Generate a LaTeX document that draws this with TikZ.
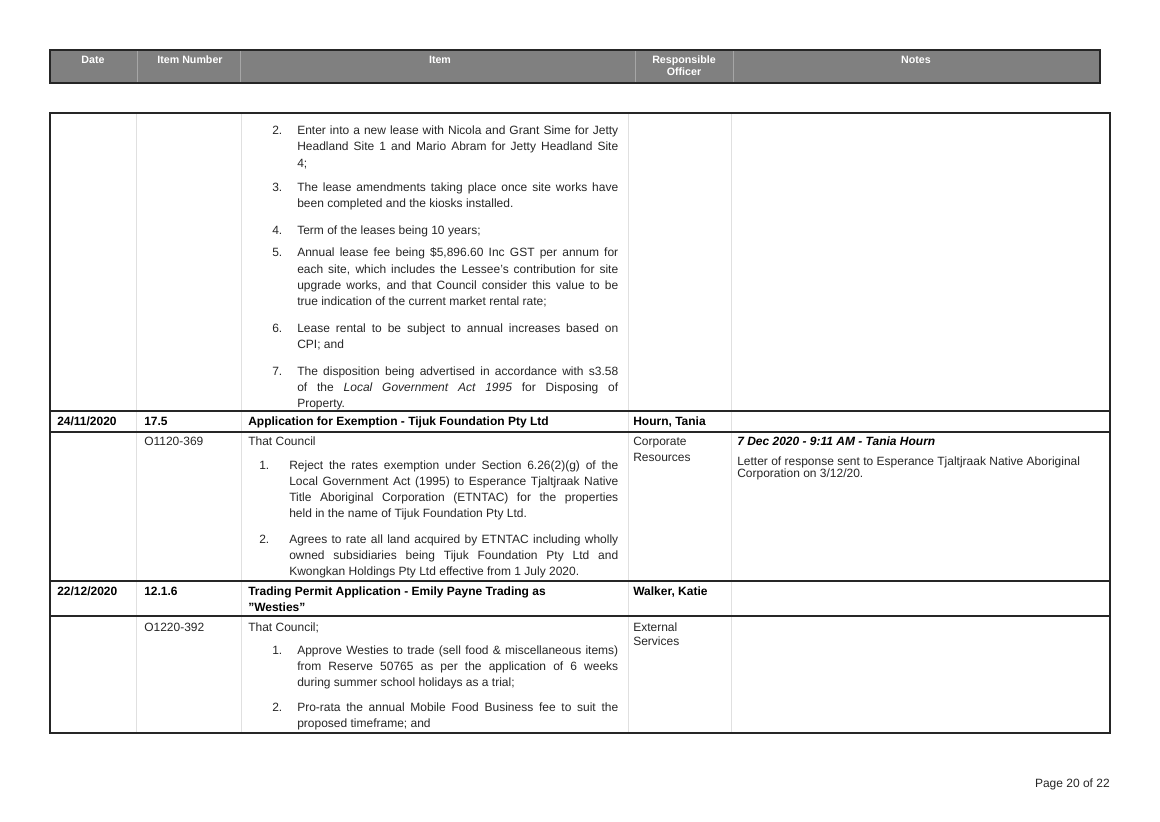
\documentclass[tikz,border=0pt]{standalone}
\usepackage{fontspec}
\setmainfont{Liberation Sans}
\newcommand\JA[1]{\makebox[240.75pt][s]{#1}}
\newcommand\JB[1]{\makebox[246.75pt][s]{#1}}
\begin{document}
\begin{tikzpicture}[x=0.75pt,y=-0.75pt,
  txt/.style={anchor=base west,inner sep=0pt,font=\fontsize{9pt}{11pt}\selectfont,text=black!85},
  btxt/.style={txt,font=\fontsize{9pt}{11pt}\selectfont\bfseries,text=black},
  hd/.style={inner sep=0pt,font=\fontsize{8pt}{9pt}\selectfont\bfseries,text=white,align=center},
  rule/.style={line width=1.2pt,black!85},
  faint/.style={line width=0.4pt,black!12}]
\useasboundingbox (0,0) rectangle (1160,821);
% header
\fill[black!50] (50,50) rectangle (1100,83);
\foreach \x in {137,240,635,733} \draw[black!35,line width=0.6pt] (\x,50) -- (\x,83);
\draw[line width=1.8pt,black!85] (50,50) rectangle (1100,83);
\node[hd] (h1) at (93,60) {Date};
\node[hd] (h2) at (190,60) {Item Number};
\node[hd] (h3) at (440,60) {Item};
\node[hd] (h4) at (684,66) {Responsible\\Officer};
\node[hd] (h5) at (916,60) {Notes};
% body grid
\foreach \x in {136,241,628,731} \draw[faint] (\x,113) -- (\x,733);
\draw[rule] (50,411) -- (1110,411);
\draw[rule] (50,432) -- (1110,432);
\draw[rule] (50,581) -- (1110,581);
\draw[rule] (50,616) -- (1110,616);
\draw[line width=1.8pt,black!85] (50,113) rectangle (1110,733);
% first block
\node[txt] (n2) at (272,134) {2.};
\node[txt] (t2a) at (297,134) {\JA{Enter into a new lease with Nicola and Grant Sime for Jetty}};
\node[txt] (t2b) at (297,150) {\JA{Headland Site 1 and Mario Abram for Jetty Headland Site}};
\node[txt] (t2c) at (297,167) {4;};
\node[txt] (n3) at (272,191) {3.};
\node[txt] (t3a) at (297,191) {\JA{The lease amendments taking place once site works have}};
\node[txt] (t3b) at (297,207) {been completed and the kiosks installed.};
\node[txt] (n4) at (272,234) {4.};
\node[txt] (t4a) at (297,234) {Term of the leases being 10 years;};
\node[txt] (n5) at (272,256) {5.};
\node[txt] (t5a) at (297,256) {\JA{Annual lease fee being \$5,896.60 Inc GST per annum for}};
\node[txt] (t5b) at (297,273) {\JA{each site, which includes the Lessee's contribution for site}};
\node[txt] (t5c) at (297,289) {\JA{upgrade works, and that Council consider this value to be}};
\node[txt] (t5d) at (297,305) {true indication of the current market rental rate;};
\node[txt] (n6) at (272,332) {6.};
\node[txt] (t6a) at (297,332) {\JA{Lease rental to be subject to annual increases based on}};
\node[txt] (t6b) at (297,348) {CPI; and};
\node[txt] (n7) at (272,375) {7.};
\node[txt] (t7a) at (297,375) {\JA{The disposition being advertised in accordance with s3.58}};
\node[txt] (t7b) at (297,391) {\JA{of the \textit{Local Government Act 1995} for Disposing of}};
\node[txt] (t7c) at (297,407) {Property.};
% row 24/11/2020
\node[btxt] (d1) at (57,425) {24/11/2020};
\node[btxt] (i1) at (144,425) {17.5};
\node[btxt] (it1) at (248,425) {Application for Exemption - Tijuk Foundation Pty Ltd};
\node[btxt] (o1) at (633,425) {Hourn, Tania};
\node[txt] (r1) at (144,445) {O1120-369};
\node[txt] (c1) at (248,445) {That Council};
\node[txt] (off1a) at (633,445) {Corporate};
\node[txt] (off1b) at (633,461) {Resources};
\node[btxt,font=\fontsize{9pt}{11pt}\selectfont\bfseries\itshape] (nt1) at (737,445) {7 Dec 2020 - 9:11 AM - Tania Hourn};
\node[txt] (nt2) at (737,465) {Letter of response sent to Esperance Tjaltjraak Native Aboriginal};
\node[txt] (nt3) at (737,477) {Corporation on 3/12/20.};
\node[txt] (m1) at (259,469) {1.};
\node[txt] (m1a) at (289,469) {\JB{Reject the rates exemption under Section 6.26(2)(g) of the}};
\node[txt] (m1b) at (289,485) {\JB{Local Government Act (1995) to Esperance Tjaltjraak Native}};
\node[txt] (m1c) at (289,501) {\JB{Title Aboriginal Corporation (ETNTAC) for the properties}};
\node[txt] (m1d) at (289,517) {held in the name of Tijuk Foundation Pty Ltd.};
\node[txt] (m2) at (259,543) {2.};
\node[txt] (m2a) at (289,543) {\JB{Agrees to rate all land acquired by ETNTAC including wholly}};
\node[txt] (m2b) at (289,559) {\JB{owned subsidiaries being Tijuk Foundation Pty Ltd and}};
\node[txt] (m2c) at (289,575) {Kwongkan Holdings Pty Ltd effective from 1 July 2020.};
% row 22/12/2020
\node[btxt] (d2) at (57,595) {22/12/2020};
\node[btxt] (i2) at (144,595) {12.1.6};
\node[btxt] (it2a) at (248,595) {Trading Permit Application - Emily Payne Trading as};
\node[btxt] (it2b) at (248,611) {\symbol{34}Westies\symbol{34}};
\node[btxt] (o2) at (633,595) {Walker, Katie};
\node[txt] (r2) at (144,631) {O1220-392};
\node[txt] (c2) at (248,631) {That Council;};
\node[txt] (off2a) at (633,631) {External};
\node[txt] (off2b) at (633,645) {Services};
\node[txt] (p1) at (272,654) {1.};
\node[txt] (p1a) at (297,654) {\JA{Approve Westies to trade (sell food \& miscellaneous items)}};
\node[txt] (p1b) at (297,670) {\JA{from Reserve 50765 as per the application of 6 weeks}};
\node[txt] (p1c) at (297,686) {during summer school holidays as a trial;};
\node[txt] (p2) at (272,711) {2.};
\node[txt] (p2a) at (297,711) {\JA{Pro-rata the annual Mobile Food Business fee to suit the}};
\node[txt] (p2b) at (297,727) {proposed timeframe; and};
% footer
\node[txt,anchor=base east] (pg) at (1110,787) {Page 20 of 22};
\end{tikzpicture}
\end{document}
